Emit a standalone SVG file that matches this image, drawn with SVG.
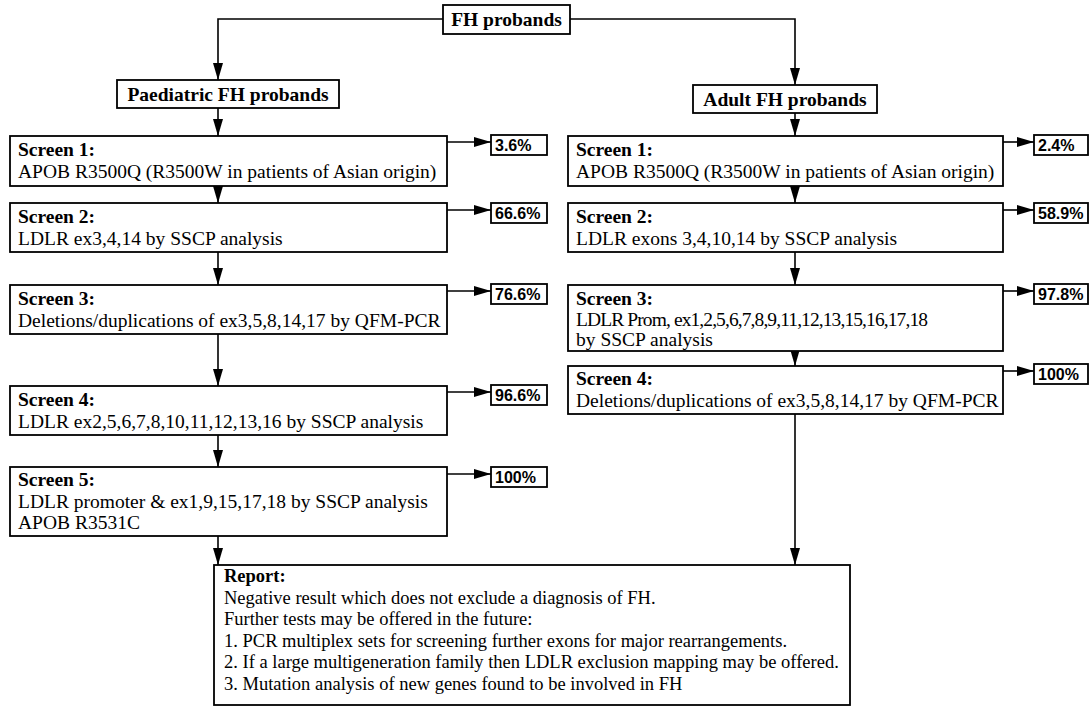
<svg xmlns="http://www.w3.org/2000/svg" width="1090" height="712" viewBox="0 0 1090 712">
<style>
.box{fill:#fff;stroke:#000;stroke-width:1.8}
.t{font-family:"Liberation Serif","Times New Roman",serif;font-size:19.5px;fill:#000}
.r{font-family:"Liberation Serif","Times New Roman",serif;font-size:18.5px;fill:#000}
.b{font-weight:bold}
.p{font-family:"Liberation Sans",Arial,sans-serif;font-size:16px;font-weight:bold;fill:#000}
.c{fill:none;stroke:#000;stroke-width:1.6}
</style>
<defs>
<marker id="ah" markerUnits="userSpaceOnUse" markerWidth="17" markerHeight="10" refX="17" refY="5" orient="auto">
<path d="M0,0 L17,5 L0,10 z" fill="#000"/>
</marker>
</defs>
<rect width="1090" height="712" fill="#fff"/>
<g id="connectors">
<polyline class="c" points="443,19 218,19 218,80" marker-end="url(#ah)"/>
<polyline class="c" points="570,19 795,19 795,85" marker-end="url(#ah)"/>
<line class="c" x1="218" y1="108" x2="218" y2="136" marker-end="url(#ah)"/>
<line class="c" x1="218" y1="186" x2="218" y2="203" marker-end="url(#ah)"/>
<line class="c" x1="218" y1="252" x2="218" y2="285" marker-end="url(#ah)"/>
<line class="c" x1="218" y1="334" x2="218" y2="386" marker-end="url(#ah)"/>
<line class="c" x1="218" y1="435" x2="218" y2="467" marker-end="url(#ah)"/>
<line class="c" x1="218" y1="536" x2="218" y2="565" marker-end="url(#ah)"/>
<line class="c" x1="795" y1="113" x2="795" y2="136" marker-end="url(#ah)"/>
<line class="c" x1="795" y1="186" x2="795" y2="203" marker-end="url(#ah)"/>
<line class="c" x1="795" y1="252" x2="795" y2="285" marker-end="url(#ah)"/>
<line class="c" x1="795" y1="351" x2="795" y2="366" marker-end="url(#ah)"/>
<line class="c" x1="795" y1="414" x2="795" y2="565" marker-end="url(#ah)"/>
<line class="c" x1="447" y1="142" x2="491" y2="142" marker-end="url(#ah)"/>
<line class="c" x1="447" y1="210" x2="491" y2="210" marker-end="url(#ah)"/>
<line class="c" x1="447" y1="291" x2="491" y2="291" marker-end="url(#ah)"/>
<line class="c" x1="447" y1="392" x2="491" y2="392" marker-end="url(#ah)"/>
<line class="c" x1="447" y1="474" x2="491" y2="474" marker-end="url(#ah)"/>
<line class="c" x1="1003" y1="142" x2="1034" y2="142" marker-end="url(#ah)"/>
<line class="c" x1="1003" y1="210" x2="1034" y2="210" marker-end="url(#ah)"/>
<line class="c" x1="1003" y1="291" x2="1034" y2="291" marker-end="url(#ah)"/>
<line class="c" x1="1003" y1="371" x2="1034" y2="371" marker-end="url(#ah)"/>
</g>
<g id="fh">
<rect class="box" x="443" y="5" width="127" height="29"/>
<text class="t b" x="506.5" y="26" text-anchor="middle">FH probands</text>
</g>
<g id="paed">
<rect class="box" x="117" y="80" width="222" height="28"/>
<text class="t b" x="228" y="101" text-anchor="middle">Paediatric FH probands</text>
</g>
<g id="adult">
<rect class="box" x="693" y="85" width="184" height="28"/>
<text class="t b" x="785" y="106" text-anchor="middle">Adult FH probands</text>
</g>
<g id="l1">
<rect class="box" x="10" y="136" width="437" height="50"/>
<text class="t b" x="18" y="156">Screen 1:</text>
<text class="t" x="18" y="178">APOB R3500Q (R3500W in patients of Asian origin)</text>
</g>
<g id="l2">
<rect class="box" x="10" y="203" width="437" height="49"/>
<text class="t b" x="18" y="223">Screen 2:</text>
<text class="t" x="18" y="245">LDLR ex3,4,14 by SSCP analysis</text>
</g>
<g id="l3">
<rect class="box" x="10" y="285" width="437" height="49"/>
<text class="t b" x="18" y="305">Screen 3:</text>
<text class="t" x="18" y="327">Deletions/duplications of ex3,5,8,14,17 by QFM-PCR</text>
</g>
<g id="l4">
<rect class="box" x="10" y="386" width="437" height="49"/>
<text class="t b" x="18" y="406">Screen 4:</text>
<text class="t" x="18" y="428">LDLR ex2,5,6,7,8,10,11,12,13,16 by SSCP analysis</text>
</g>
<g id="l5">
<rect class="box" x="10" y="467" width="437" height="69"/>
<text class="t b" x="18" y="486">Screen 5:</text>
<text class="t" x="18" y="508">LDLR promoter &amp; ex1,9,15,17,18 by SSCP analysis</text>
<text class="t" x="18" y="529">APOB R3531C</text>
</g>
<g id="r1">
<rect class="box" x="568" y="136" width="435" height="50"/>
<text class="t b" x="576" y="156">Screen 1:</text>
<text class="t" x="576" y="178">APOB R3500Q (R3500W in patients of Asian origin)</text>
</g>
<g id="r2">
<rect class="box" x="568" y="203" width="435" height="49"/>
<text class="t b" x="576" y="223">Screen 2:</text>
<text class="t" x="576" y="245">LDLR exons 3,4,10,14 by SSCP analysis</text>
</g>
<g id="r3">
<rect class="box" x="568" y="285" width="435" height="66"/>
<text class="t b" x="576" y="305">Screen 3:</text>
<text class="t" x="576" y="326" textLength="352" lengthAdjust="spacing">LDLR Prom, ex1,2,5,6,7,8,9,11,12,13,15,16,17,18</text>
<text class="t" x="576" y="346">by SSCP analysis</text>
</g>
<g id="r4">
<rect class="box" x="568" y="366" width="435" height="48"/>
<text class="t b" x="576" y="385">Screen 4:</text>
<text class="t" x="576" y="407">Deletions/duplications of ex3,5,8,14,17 by QFM-PCR</text>
</g>
<g id="pl1"><rect class="box" x="491" y="135" width="56" height="20"/><text class="p" x="495" y="151">3.6%</text></g>
<g id="pl2"><rect class="box" x="491" y="203" width="56" height="20"/><text class="p" x="495" y="219">66.6%</text></g>
<g id="pl3"><rect class="box" x="491" y="284" width="56" height="20"/><text class="p" x="495" y="300">76.6%</text></g>
<g id="pl4"><rect class="box" x="491" y="385" width="56" height="20"/><text class="p" x="495" y="401">96.6%</text></g>
<g id="pl5"><rect class="box" x="491" y="467" width="56" height="20"/><text class="p" x="495" y="483">100%</text></g>
<g id="pr1"><rect class="box" x="1034" y="135" width="54" height="20"/><text class="p" x="1038" y="151">2.4%</text></g>
<g id="pr2"><rect class="box" x="1034" y="203" width="54" height="20"/><text class="p" x="1038" y="219">58.9%</text></g>
<g id="pr3"><rect class="box" x="1034" y="284" width="54" height="20"/><text class="p" x="1038" y="300">97.8%</text></g>
<g id="pr4"><rect class="box" x="1034" y="364" width="54" height="20"/><text class="p" x="1038" y="380">100%</text></g>
<g id="report">
<rect class="box" x="214" y="565" width="636" height="140"/>
<text class="r b" x="224" y="582">Report:</text>
<text class="r" x="224" y="603.5">Negative result which does not exclude a diagnosis of FH.</text>
<text class="r" x="224" y="625">Further tests may be offered in the future:</text>
<text class="r" x="224" y="646.5">1. PCR multiplex sets for screening further exons for major rearrangements.</text>
<text class="r" x="224" y="668">2. If a large multigeneration family then LDLR exclusion mapping may be offered.</text>
<text class="r" x="224" y="689.5">3. Mutation analysis of new genes found to be involved in FH</text>
</g>
</svg>
